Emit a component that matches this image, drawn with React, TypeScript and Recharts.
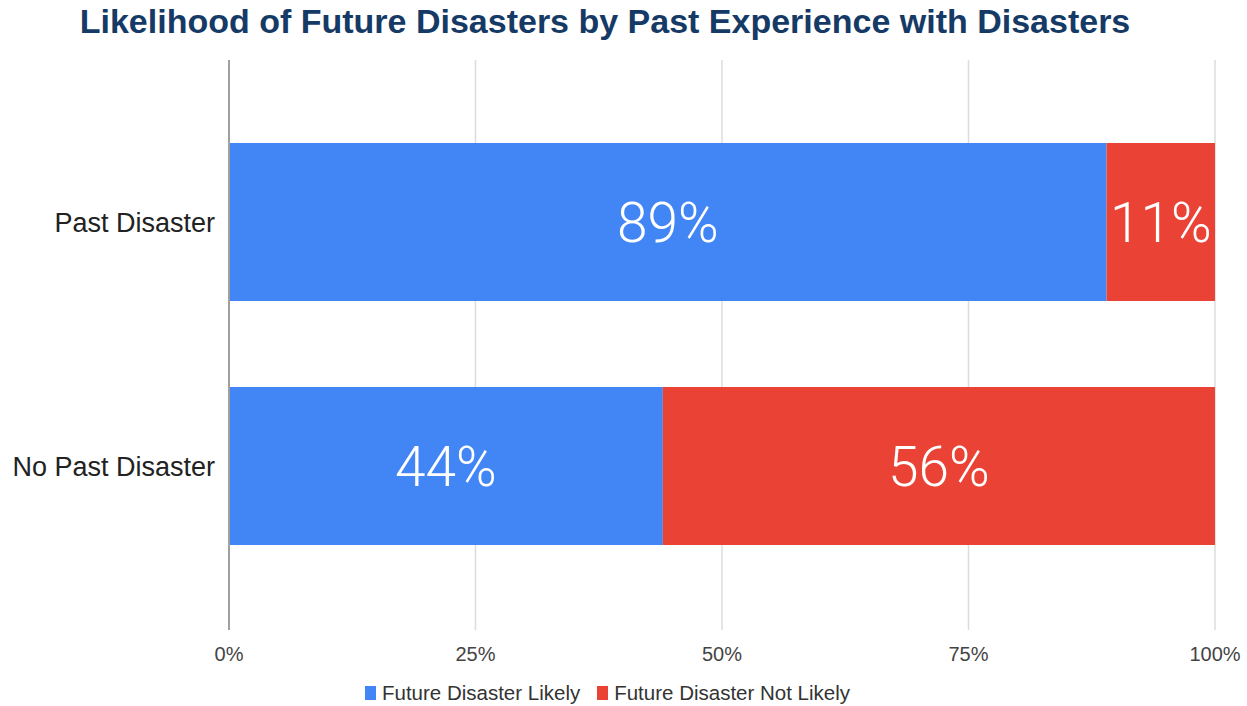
import React from 'react';
import { BarChart, Bar, XAxis, YAxis, CartesianGrid, Legend, LabelList } from 'recharts';

const categories = ['Past Disaster', 'No Past Disaster'];
const likely = [89, 44];
const notLikely = [11, 56];
const xTicks = [0, 25, 50, 75, 100];
const seriesNames = ['Future Disaster Likely', 'Future Disaster Not Likely'];
const colors = ['#4285f4', '#ea4335'];

const data = categories.map((c, i) => ({ name: c, likely: likely[i], notLikely: notLikely[i] }));

const LegendContent = () => (
  <div style={{ display: 'flex', justifyContent: 'center', alignItems: 'center', fontFamily: 'Arial, "Liberation Sans", sans-serif', fontSize: 20.5, color: '#333', height: 22 }}>
    {seriesNames.map((n, i) => (
      <div key={n} style={{ display: 'flex', alignItems: 'center', marginRight: i === 0 ? 17 : 0 }}>
        <div style={{ width: 11, height: 14, background: colors[i], marginRight: 6 }} />
        <span>{n}</span>
      </div>
    ))}
  </div>
);

export default function App() {
  return (
    <div style={{ position: 'absolute', left: 0, top: 0, width: 1247, height: 706, background: '#fff' }}>
      <div style={{ position: 'absolute', left: 0, top: 2, width: 1210, textAlign: 'center', fontFamily: 'Arial, "Liberation Sans", sans-serif', fontWeight: 'bold', fontSize: 34, color: '#163a66' }}>
        Likelihood of Future Disasters by Past Experience with Disasters
      </div>
      <BarChart
        width={1247}
        height={706}
        data={data}
        layout="vertical"
        margin={{ top: 60, right: 32, bottom: 14, left: 0 }}
        barSize={158}
      >
        <CartesianGrid horizontal={false} stroke="#dcdcdc" strokeWidth={1.5} />
        <XAxis
          type="number"
          domain={[0, 100]}
          ticks={xTicks}
          tickFormatter={(v: number) => `${v}%`}
          axisLine={false}
          tickLine={false}
          tickSize={0}
          tickMargin={17}
          height={40}
          tick={{ fill: '#444', fontSize: 20, fontFamily: 'Arial, "Liberation Sans", sans-serif' }}
        />
        <YAxis
          type="category"
          dataKey="name"
          width={229}
          padding={{ top: 40, bottom: 42 }}
          axisLine={{ stroke: '#a0a0a0', strokeWidth: 2 }}
          tickLine={false}
          tickSize={0}
          tickMargin={14}
          tick={{ fill: '#222', fontSize: 27, fontFamily: 'Arial, "Liberation Sans", sans-serif' }}
        />
        <Legend verticalAlign="bottom" content={<LegendContent />} wrapperStyle={{ left: 0, width: 1215, top: 682 }} />
        <Bar dataKey="likely" stackId="a" fill={colors[0]} name={seriesNames[0]} isAnimationActive={false}>
          <LabelList dataKey="likely" position="center" formatter={(v: number) => `${v}%`} fill="#fff" style={{ fontSize: 55, fontFamily: 'Roboto, sans-serif', fontWeight: 300 }} />
        </Bar>
        <Bar dataKey="notLikely" stackId="a" fill={colors[1]} name={seriesNames[1]} isAnimationActive={false}>
          <LabelList dataKey="notLikely" position="center" formatter={(v: number) => `${v}%`} fill="#fff" style={{ fontSize: 55, fontFamily: 'Roboto, sans-serif', fontWeight: 300 }} />
        </Bar>
      </BarChart>
    </div>
  );
}
